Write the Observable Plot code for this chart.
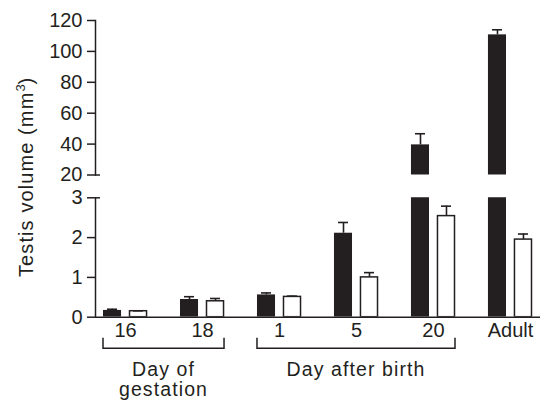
<!DOCTYPE html>
<html>
<head>
<meta charset="utf-8">
<script src="https://cdn.jsdelivr.net/npm/d3@7"></script>
<script src="https://cdn.jsdelivr.net/npm/@observablehq/plot@0.6"></script>
<style>
  html, body { margin: 0; padding: 0; background: #fff; }
  #chart { position: relative; width: 541px; height: 401px; overflow: hidden; font-family: "Liberation Sans", Arial, sans-serif; color: #231f20; }
  #chart svg { display: block; }
  #ylab { position: absolute; left: 0; top: 0; transform-origin: 0 0; transform: translate(16px, 277px) rotate(-90deg);
          white-space: nowrap; font-size: 20px; line-height: 20px; letter-spacing: 1.1px; color: #231f20; }
  #ylab sup { font-size: 13px; line-height: 0; vertical-align: 0; position: relative; top: -8px; letter-spacing: 0; }
</style>
</head>
<body>
<div id="chart">
  <div id="top"></div>
  <div id="bottom"></div>
  <div id="ylab">Testis volume (mm<sup>3</sup>)</div>
</div>
<script>
// ---- data ----
const categories = ["16", "18", "1", "5", "20", "Adult"];
const seriesNames = ["filled", "open"];
const filledValues = [0.17, 0.445, 0.56, 2.11, 39.5, 110.7];
const filledErrors = [0.03, 0.07, 0.05, 0.27, 7.2, 3.3];
const openValues = [0.15, 0.40, 0.51, 1.00, 2.54, 1.95];
const openErrors = [0.01, 0.07, 0.02, 0.12, 0.25, 0.14];
const lowerTicks = [0, 1, 2, 3];
const upperTicks = [20, 40, 60, 80, 100, 120];
const groupLabels = [
  {label: ["Day of", "gestation"], members: ["16", "18"]},
  {label: ["Day after birth"], members: ["1", "5", "20"]}
];

// ---- derived table ----
const lowerMax = d3.max(lowerTicks), upperMin = d3.min(upperTicks), upperMax = d3.max(upperTicks);
const rows = [];
categories.forEach((c, i) => {
  rows.push({group: c, series: seriesNames[0], value: filledValues[i], top: filledValues[i] + filledErrors[i]});
  rows.push({group: c, series: seriesNames[1], value: openValues[i], top: openValues[i] + openErrors[i]});
});
const filled = rows.filter(d => d.series === seriesNames[0]);
const open = rows.filter(d => d.series === seriesNames[1]);

const ink = "#231f20";
const font = "'Liberation Sans', Arial, sans-serif";
const xScale = {domain: categories, paddingInner: 0.428, paddingOuter: 0.104, round: false};
const common = {width: 541, marginLeft: 95, marginRight: 1,
  style: {fontFamily: font, fontSize: "20px", color: ink, background: "transparent", overflow: "visible"}};
const intFormat = d3.format("d");

function errorMarks(data, side) {
  const dx = side === "left" ? -13 : 13;
  return [
    Plot.ruleX(data, {x: "group", y1: "value", y2: "top", dx, stroke: ink, strokeWidth: 1.6}),
    Plot.tickY(data, {x: "group", y: "top", stroke: ink, strokeWidth: 1.6,
      insetLeft: side === "left" ? 4 : 30, insetRight: side === "left" ? 30 : 4})
  ];
}

// ---- upper panel (20–120) ----
const upFilled = filled.filter(d => d.value > upperMin);
const upOpen = open.filter(d => d.value > upperMin);
const upper = Plot.plot({
  ...common,
  height: 178, marginTop: 20, marginBottom: 3.5,
  x: {...xScale, axis: null},
  y: {domain: [upperMin, upperMax], label: null},
  marks: [
    Plot.frame({anchor: "left", stroke: ink, strokeWidth: 1.5}),
    Plot.axisY({ticks: upperTicks, tickFormat: intFormat, tickSize: 8, tickPadding: 5, label: null, strokeWidth: 1.5, stroke: ink, fill: ink}),
    Plot.axisY({ticks: [upperMin], tickSize: 5, dx: 5, tickFormat: () => "", label: null, strokeWidth: 1.5, stroke: ink}),
    Plot.barY(upFilled, {x: "group", y1: () => upperMin, y2: "value", fill: ink, insetRight: 26}),
    Plot.barY(upOpen, {x: "group", y1: () => upperMin, y2: "value", fill: "white", stroke: ink, strokeWidth: 1.5, insetLeft: 26.5, insetRight: 0.5}),
    ...errorMarks(upFilled, "left"),
    ...errorMarks(upOpen, "right")
  ]
});

// ---- group brackets & labels (drawn with the x scale) ----
function groupBrackets(index, scales, values, dimensions) {
  const x = scales.x;
  const bw = typeof x.bandwidth === "function" ? x.bandwidth() : (scales.scales?.x?.bandwidth ?? 0);
  const y0 = dimensions.height - dimensions.marginBottom;
  const g = d3.create("svg:g");
  for (const grp of groupLabels) {
    const xa = x(grp.members[0]);
    const xb = x(grp.members[grp.members.length - 1]) + bw;
    g.append("path")
      .attr("d", `M${xa},${y0 + 21}V${y0 + 31.5}H${xb}V${y0 + 21}`)
      .attr("fill", "none").attr("stroke", ink).attr("stroke-width", 1.5);
    grp.label.forEach((line, j) => {
      g.append("text").attr("text-anchor", "middle").attr("fill", ink)
        .style("letter-spacing", "1.1px").style("font-size", "19.5px")
        .attr("x", (xa + xb) / 2).attr("y", y0 + 59 + j * 20.5).text(line);
    });
  }
  return g.node();
}

// ---- lower panel (0–3) ----
const lowFilled = filled.filter(d => d.value <= lowerMax);
const lowOpen = open.filter(d => d.value <= lowerMax);
const lower = Plot.plot({
  ...common,
  height: 223, marginTop: 19.3, marginBottom: 84.3,
  x: {...xScale, label: null},
  y: {domain: [0, lowerMax], label: null},
  marks: [
    Plot.barY(filled, {x: "group", y: "value", fill: ink, insetRight: 26, clip: true}),
    Plot.barY(open, {x: "group", y: "value", fill: "white", stroke: ink, strokeWidth: 1.5, insetLeft: 26.5, insetRight: 0.5, clip: true}),
    ...errorMarks(lowFilled, "left"),
    ...errorMarks(lowOpen, "right"),
    Plot.ruleY([0], {stroke: ink, strokeWidth: 1.6}),
    Plot.frame({anchor: "left", stroke: ink, strokeWidth: 1.5}),
    Plot.axisY({ticks: lowerTicks, tickFormat: intFormat, tickSize: 8, tickPadding: 5, label: null, strokeWidth: 1.5, stroke: ink, fill: ink}),
    Plot.axisY({ticks: [lowerMax], tickSize: 5, dx: 5, tickFormat: () => "", label: null, strokeWidth: 1.5, stroke: ink}),
    Plot.axisX({tickSize: 0, tickPadding: 5.5, label: null, fill: ink}),
    groupBrackets
  ]
});

document.getElementById("top").appendChild(upper);
document.getElementById("bottom").appendChild(lower);
</script>
</body>
</html>
